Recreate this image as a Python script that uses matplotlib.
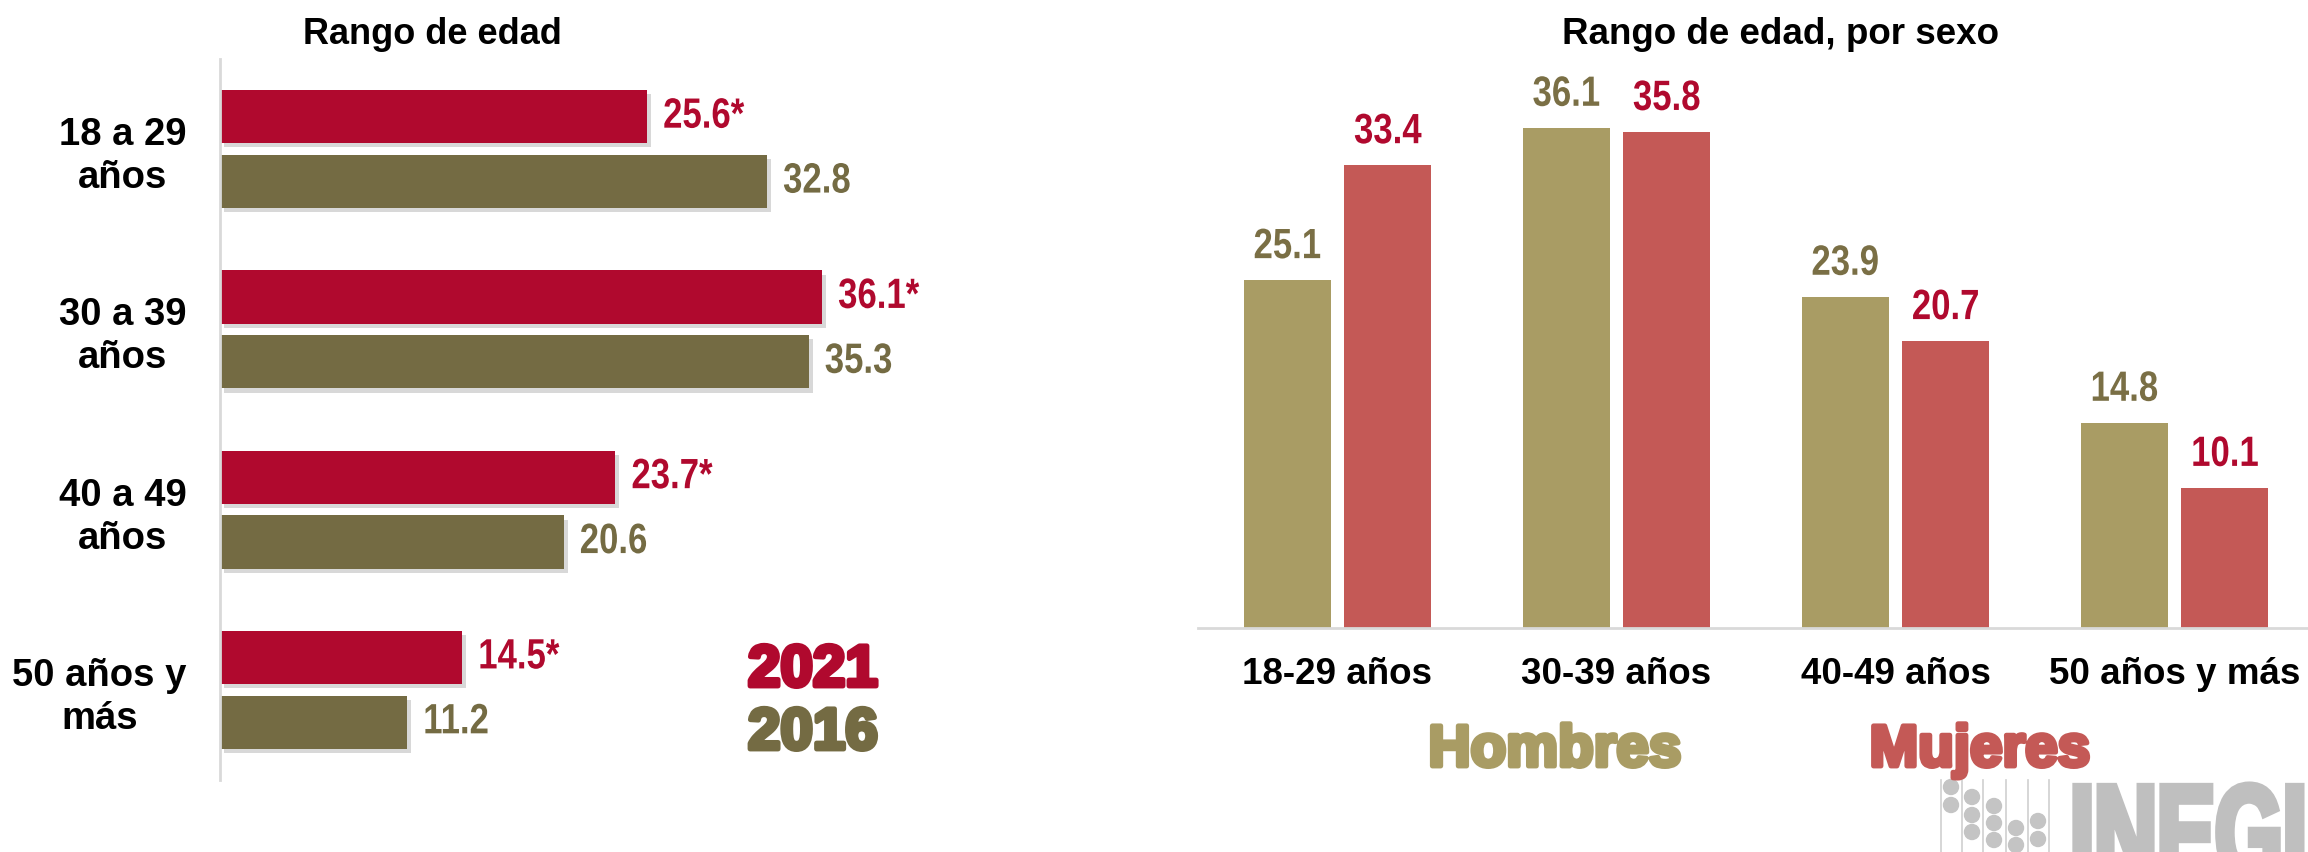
import numpy as np
import matplotlib
matplotlib.use('Agg')
import matplotlib.pyplot as plt
import matplotlib.patheffects as pe
from matplotlib import font_manager
from matplotlib.textpath import TextPath
from matplotlib.patches import PathPatch, Circle
from matplotlib.font_manager import FontProperties
from matplotlib.transforms import Affine2D

# datos
edad_cat = ['18 a 29\naños', '30 a 39\naños', '40 a 49\naños', '50 años y\nmás']
val_2021 = [25.6, 36.1, 23.7, 14.5]
val_2016 = [32.8, 35.3, 20.6, 11.2]

sexo_cat = ['18-29 años', '30-39 años', '40-49 años', '50 años y más']
hombres = [25.1, 36.1, 23.9, 14.8]
mujeres = [33.4, 35.8, 20.7, 10.1]

ROJO = '#b0092e'
OLIVO = '#746b43'
H_BAR = '#a99c64'
M_BAR = '#c45956'
H_TXT = '#7a6f45'
GRIS = '#d9d9d9'


def pick(fams):
    for f in fams:
        try:
            font_manager.findfont(f, fallback_to_default=False)
            return f
        except ValueError:
            pass
    return 'DejaVu Sans'


MAIN = pick(['Liberation Sans', 'Arial'])
plt.rcParams['font.family'] = MAIN


class Narrow(pe.AbstractPathEffect):
    # comprime el texto en horizontal (imita Arial Narrow)
    def __init__(self, sx=0.82, anchor=0.0):
        super().__init__()
        self.sx = sx
        self.anchor = anchor

    def draw_path(self, renderer, gc, tpath, affine, rgbFace=None):
        ext = tpath.get_extents()
        x0 = ext.x0 + self.anchor * ext.width
        t = Affine2D().translate(-x0, 0).scale(self.sx, 1).translate(x0, 0) + affine
        renderer.draw_path(gc, tpath, t, rgbFace)


W, H = 2308, 852
fig = plt.figure(figsize=(W / 100, H / 100), dpi=100)

# ---- izquierda: rango de edad ----
ax1 = fig.add_axes([220 / W, 1 - 780 / H, 667 / W, 721 / H])
y = np.arange(len(edad_cat))
sh = [pe.SimplePatchShadow(offset=(3, -3), alpha=0.3, shadow_rgbFace='#808080'), pe.Normal()]
b21 = ax1.barh(y - 0.18, val_2021, height=0.295, color=ROJO)
b16 = ax1.barh(y + 0.18, val_2016, height=0.295, color=OLIVO)
for b in list(b21) + list(b16):
    b.set_path_effects(sh)
for yi, v in zip(y, val_2021):
    ax1.annotate(f'{v:.1f}*', (v, yi - 0.18), xytext=(11.5, 0), textcoords='offset points',
                 va='center', ha='left', color=ROJO, fontsize=30.5, fontweight='bold',
                 path_effects=[Narrow(0.82, 0.0)])
for yi, v in zip(y, val_2016):
    ax1.annotate(f'{v:.1f}', (v, yi + 0.18), xytext=(11.5, 0), textcoords='offset points',
                 va='center', ha='left', color=OLIVO, fontsize=30.5, fontweight='bold',
                 path_effects=[Narrow(0.82, 0.0)])
ax1.set_xlim(0, 40)
ax1.set_ylim(3.5, -0.5)
ax1.set_xticks([])
ax1.set_yticks(y)
ax1.set_yticklabels(edad_cat, fontsize=27.5, fontweight='bold', linespacing=1.25)
for lab in ax1.get_yticklabels():
    lab.set_multialignment('center')
ax1.tick_params(axis='y', length=0, pad=24)
for s in ['top', 'right', 'bottom']:
    ax1.spines[s].set_visible(False)
ax1.spines['left'].set_color(GRIS)
ax1.spines['left'].set_linewidth(2)

fig.text(432 / W, 1 - 44 / H, 'Rango de edad', ha='center', va='baseline',
         fontsize=26, fontweight='bold')

t = fig.text(748 / W, 1 - 686 / H, '2021', ha='left', va='baseline', fontsize=42,
             fontweight='bold', color=ROJO)
t.set_path_effects([pe.withStroke(linewidth=3.5, foreground=ROJO)])
t = fig.text(748 / W, 1 - 749 / H, '2016', ha='left', va='baseline', fontsize=42,
             fontweight='bold', color=OLIVO)
t.set_path_effects([pe.withStroke(linewidth=3.5, foreground=OLIVO)])

# ---- derecha: rango de edad por sexo ----
ax2 = fig.add_axes([1198 / W, 1 - 628 / H, 1110 / W, 554 / H])
x = np.arange(len(sexo_cat))
ax2.bar(x - 0.18, hombres, width=0.31, color=H_BAR)
ax2.bar(x + 0.18, mujeres, width=0.31, color=M_BAR)
for xi, v in zip(x, hombres):
    ax2.annotate(f'{v:.1f}', (xi - 0.18, v), xytext=(0, 16), textcoords='offset points',
                 ha='center', va='baseline', color=H_TXT, fontsize=30.5, fontweight='bold',
                 path_effects=[Narrow(0.82, 0.5)])
for xi, v in zip(x, mujeres):
    ax2.annotate(f'{v:.1f}', (xi + 0.18, v), xytext=(0, 16), textcoords='offset points',
                 ha='center', va='baseline', color=ROJO, fontsize=30.5, fontweight='bold',
                 path_effects=[Narrow(0.82, 0.5)])
ax2.set_xlim(-0.5, -0.5 + 1110 / 279)
ax2.set_ylim(0, 40)
ax2.set_yticks([])
ax2.set_xticks(x)
ax2.set_xticklabels(sexo_cat, fontsize=26.5, fontweight='bold')
ax2.tick_params(axis='x', length=0, pad=21)
for s in ['top', 'right', 'left']:
    ax2.spines[s].set_visible(False)
ax2.spines['bottom'].set_color(GRIS)
ax2.spines['bottom'].set_linewidth(2)

fig.text(1780 / W, 1 - 44 / H, 'Rango de edad, por sexo', ha='center', va='baseline',
         fontsize=26.5, fontweight='bold')

t = fig.text(1555 / W, 1 - 766 / H, 'Hombres', ha='center', va='baseline', fontsize=42,
             fontweight='bold', color=H_BAR)
t.set_path_effects([pe.withStroke(linewidth=3.5, foreground=H_BAR)])
t = fig.text(1980 / W, 1 - 766 / H, 'Mujeres', ha='center', va='baseline', fontsize=42,
             fontweight='bold', color=M_BAR)
t.set_path_effects([pe.withStroke(linewidth=3.5, foreground=M_BAR)])

# ---- logo INEGI ----
lg = fig.add_axes([0, 0, 1, 1], facecolor='none')
lg.set_xlim(0, W)
lg.set_ylim(H, 0)
lg.axis('off')
tp = TextPath((0, 0), 'INEGI', size=100, prop=FontProperties(family=MAIN, weight='bold'))
tr = Affine2D().scale(0.87, -1.35).translate(2070, 782 + 72 * 1.35)
lg.add_patch(PathPatch(tr.transform_path(tp), facecolor='#bfbfbf', edgecolor='#bfbfbf', lw=5))
for lx in [1941, 1962, 1983, 2006, 2028, 2049]:
    lg.plot([lx, lx], [780, H], color='#cfcfcf', lw=1.2)
for cx, cys in [(1951, [787, 805]), (1972, [797, 815, 832]), (1994, [806, 823, 840]),
                (2016, [828, 845]), (2038, [821, 839])]:
    for cy in cys:
        lg.add_patch(Circle((cx, cy), 7.5, color='#c4c4c4'))

fig.savefig('out.png', dpi=100)
